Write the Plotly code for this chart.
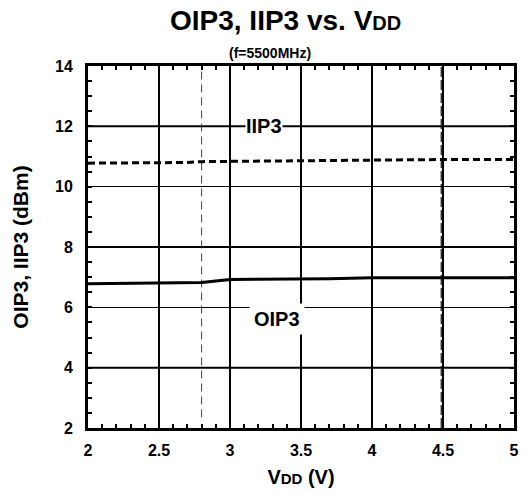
import plotly.graph_objects as go

# Supply voltage sweep (V) and measured intercept points (dBm), f = 5500 MHz
vdd = [2.0, 2.5, 2.7, 2.8, 3.0, 3.5, 3.7, 4.0, 4.5, 5.0]
oip3 = [6.78, 6.79, 6.80, 6.82, 6.92, 6.93, 6.95, 6.98, 6.98, 6.98]
iip3 = [10.78, 10.79, 10.80, 10.83, 10.84, 10.85, 10.86, 10.88, 10.90, 10.90]

# Operating-range markers on the VDD axis
vdd_limits = [2.8, 4.49]

x_ticks = [2, 2.5, 3, 3.5, 4, 4.5, 5]
x_tick_text = ["2", "2.5", "3", "3.5", "4", "4.5", "5"]
y_ticks = [2, 4, 6, 8, 10, 12, 14]
heavy_y_grid = [4, 8, 12]

FONT = "Liberation Sans, Arial, sans-serif"

fig = go.Figure()

fig.add_trace(go.Scatter(
    x=vdd, y=iip3, mode="lines", name="IIP3",
    line=dict(color="black", width=3, dash="7px,4px"),
))
fig.add_trace(go.Scatter(
    x=vdd, y=oip3, mode="lines", name="OIP3",
    line=dict(color="black", width=3),
))

# Heavier horizontal grid lines
for yv in heavy_y_grid:
    fig.add_shape(type="line", xref="x", yref="y", x0=2, x1=5, y0=yv, y1=yv,
                  line=dict(color="black", width=2), layer="below")

# Dashed VDD markers
fig.add_shape(type="line", xref="x", yref="y", x0=vdd_limits[0], x1=vdd_limits[0],
              y0=2.35, y1=14, line=dict(color="#444", width=1, dash="8px,5px"),
              layer="below")
fig.add_shape(type="line", xref="x", yref="y", x0=vdd_limits[1], x1=vdd_limits[1],
              y0=2, y1=14, line=dict(color="#333", width=2, dash="10px,3px"),
              layer="below")

label_font = dict(family=FONT, size=20, color="black")
fig.add_annotation(x=3.24, y=12, text="<b>IIP3</b>", showarrow=False,
                   font=label_font, bgcolor="white", borderpad=0)
fig.add_annotation(x=3.33, y=5.6, text="<b>OIP3</b>", showarrow=False,
                   font=label_font, bgcolor="white", borderpad=4)

fig.add_annotation(xref="paper", yref="paper", x=0.464, y=1.0, yshift=46,
                   yanchor="middle",
                   text="<b>OIP3, IIP3 vs. V<span style='font-size:20px'>DD</span></b>",
                   showarrow=False, font=dict(family=FONT, size=28, color="black"))
fig.add_annotation(xref="paper", yref="paper", x=0.428, y=1.0, yshift=13,
                   yanchor="middle",
                   text="<b>(f=5500MHz)</b>", showarrow=False,
                   font=dict(family=FONT, size=14, color="black"))

axis_common = dict(
    showline=True, linewidth=3, linecolor="black", mirror="allticks",
    ticks="inside", ticklen=0, tickcolor="black",
    tickfont=dict(family=FONT, size=16, color="black"),
    zeroline=False,
)

fig.update_xaxes(
    range=[2, 5], tickvals=x_ticks, ticktext=["<b>%s</b>" % t for t in x_tick_text],
    showgrid=True, gridcolor="black", gridwidth=2, ticklabelstandoff=6,
    minor=dict(dtick=0.1, tick0=2, ticks="inside", ticklen=4, tickwidth=2,
               tickcolor="black", showgrid=False),
    title=dict(text="<b>V<span style='font-size:15px'>DD</span> (V)</b>",
               font=dict(family=FONT, size=20, color="black"), standoff=12),
    **axis_common,
)
fig.update_yaxes(
    range=[2, 14], tickvals=y_ticks, ticktext=["<b>%d</b>" % t for t in y_ticks],
    showgrid=True, gridcolor="black", gridwidth=1, ticklabelstandoff=9,
    minor=dict(dtick=0.5, tick0=2, ticks="inside", ticklen=4, tickwidth=2,
               tickcolor="black", showgrid=False),
    title=dict(text="<b>OIP3, IIP3 (dBm)</b>",
               font=dict(family=FONT, size=21, color="black"), standoff=21),
    **axis_common,
)

fig.update_layout(
    width=523, height=493,
    margin=dict(l=88, r=4, t=66, b=65),
    paper_bgcolor="white", plot_bgcolor="white",
    showlegend=False,
)

fig.write_html("out.html")
